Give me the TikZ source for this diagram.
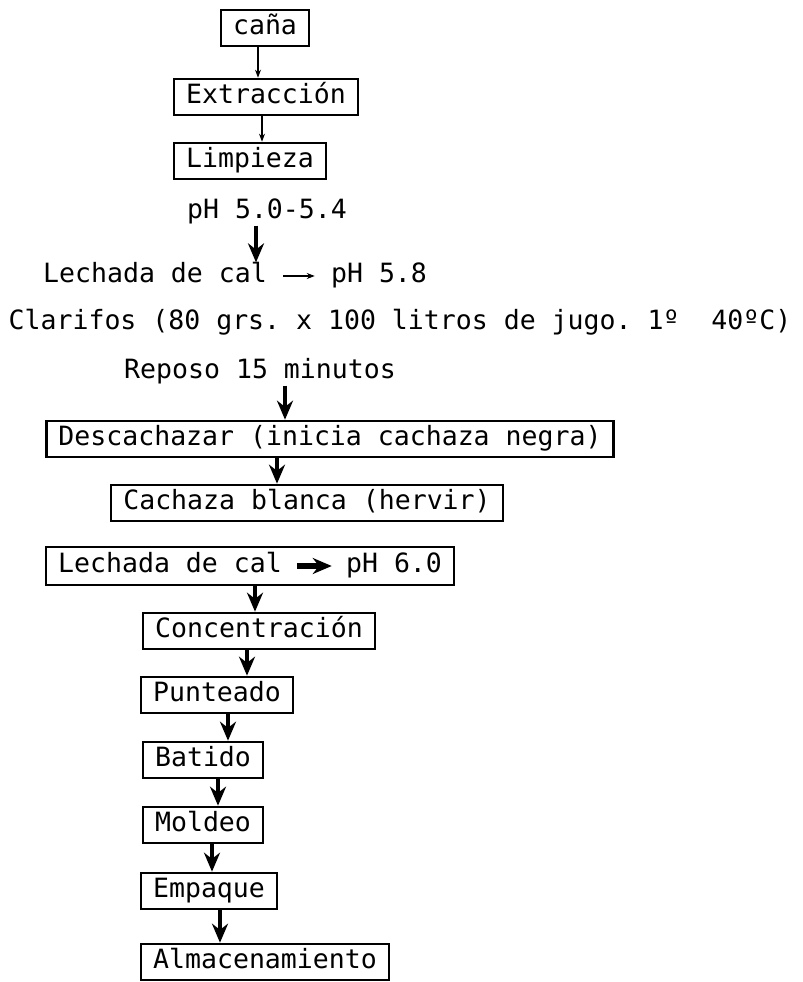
\documentclass[tikz,border=0pt]{standalone}
\usepackage{fontspec}
\setmonofont{DejaVu Sans Mono}
\usetikzlibrary{arrows.meta,fit}
\begin{document}
\begin{tikzpicture}[x=0.02cm,y=-0.02cm,
		every node/.style={font=\ttfamily\fontsize{15.1}{18}\selectfont,inner sep=0pt,text height=11.5pt,text depth=3.6pt},
		stepbox/.style={draw,line width=1.2pt,inner xsep=0.24cm,inner ysep=0.1cm},
		flow/.style={-{Stealth[length=0.38cm,width=0.32cm]},line width=2.4pt},
		thinflow/.style={-{Stealth[length=0.16cm,width=0.12cm]},line width=0.6pt}]
		\useasboundingbox (0,0) rectangle (802,982);
		\node (cana) at (265,28)  [stepbox] {caña};
		\node (extr) at (266,97)  [stepbox] {Extracción};
		\node (limp) at (250,161) [stepbox] {Limpieza};
		\node (ph1)  at (267,212) {pH 5.0-5.4};
		\node (lech1) at (155,276) {Lechada de cal};
		\node (ph2)  at (379,276) {pH 5.8};
		\node (clar) at (400,323) {Clarifos (80 grs. x 100 litros de jugo. 1º\ \ 40ºC)};
		\node (repo) at (260,372) {Reposo 15 minutos};
		\node (desc) at (330,439) [stepbox] {Descachazar (inicia cachaza negra)};
		\node (cach) at (307,503) [stepbox] {Cachaza blanca (hervir)};
		\node (lechb) at (170,566) {Lechada de cal};
		\node (ph3)  at (394,566) {pH 6.0};
		\node (lech2) [stepbox,fit=(lechb)(ph3)] {};
		\node (conc) at (259,631) [stepbox] {Concentración};
		\node (punt) at (217,695) [stepbox] {Punteado};
		\node (bati) at (203,760) [stepbox] {Batido};
		\node (mold) at (203,825) [stepbox] {Moldeo};
		\node (empa) at (209,891) [stepbox] {Empaque};
		\node (alma) at (265,962) [stepbox] {Almacenamiento};
		\draw [thinflow] (cana.south -| 258,0)--(extr.north -| 258,0);
		\draw [thinflow] (extr.south -| 262,0)--(limp.north -| 262,0);
		\draw [flow] (ph1.south -| 256,0)--(lech1.north -| 256,0);
		\draw [thinflow,shorten <=0.32cm,shorten >=0.32cm] (lech1)--(ph2);
		\draw [flow,line width=3.2pt,shorten <=0.3cm,shorten >=0.28cm] (lechb)--(ph3);
		\draw [flow] (repo.south -| 285,0)--(desc.north -| 285,0);
		\draw [flow] (desc.south -| 277,0)--(cach.north -| 277,0);
		\draw [flow] (lech2.south -| 255,0)--(conc.north -| 255,0);
		\draw [flow] (conc.south -| 247,0)--(punt.north -| 247,0);
		\draw [flow] (punt.south -| 228,0)--(bati.north -| 228,0);
		\draw [flow] (bati.south -| 218,0)--(mold.north -| 218,0);
		\draw [flow] (mold.south -| 212,0)--(empa.north -| 212,0);
		\draw [flow] (empa.south -| 220,0)--(alma.north -| 220,0);
\end{tikzpicture}
\end{document}
